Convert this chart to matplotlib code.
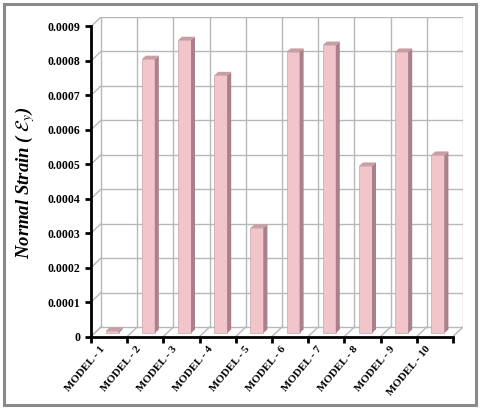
import matplotlib
matplotlib.use("Agg")
import matplotlib.pyplot as plt
from matplotlib.patches import Polygon, Rectangle
import matplotlib.transforms as mtransforms
import numpy as np

categories = ["MODEL - 1", "MODEL - 2", "MODEL - 3", "MODEL - 4", "MODEL - 5",
              "MODEL - 6", "MODEL - 7", "MODEL - 8", "MODEL - 9", "MODEL - 10"]
strain = [0.000006, 0.000795, 0.000850, 0.000748, 0.000305,
          0.000816, 0.000836, 0.000485, 0.000816, 0.000517]
yticks = [0, 0.0001, 0.0002, 0.0003, 0.0004, 0.0005, 0.0006, 0.0007, 0.0008, 0.0009]
ytick_labels = ["0", "0.0001", "0.0002", "0.0003", "0.0004", "0.0005",
                "0.0006", "0.0007", "0.0008", "0.0009"]

plt.rcParams['mathtext.fontset'] = 'stix'

W, H = 480, 409
fig = plt.figure(figsize=(W / 100, H / 100), dpi=100)
fig.patch.set_facecolor('white')

x0_px, x1_px = 91, 463
y0_px, y1_px = 336.5, 17
ax = fig.add_axes([x0_px / W, (H - y0_px) / H, (x1_px - x0_px) / W, (y0_px - y1_px) / H])
ax.set_facecolor('none')

n = len(categories)
ymax = 0.0009
dx_px, dy_px = 10.0, 9.5
sx = (x1_px - x0_px - dx_px) / n
sy = (y0_px - y1_px - dy_px) / ymax
dx = dx_px / sx
dy = dy_px / sy
ax.set_xlim(0, n + dx)
ax.set_ylim(0, ymax + dy)

grid_c = '#b8b8b8'
glw = 1.0
for v in yticks:
    ax.plot([dx, n + dx], [v + dy, v + dy], color=grid_c, lw=glw, zorder=1)
    ax.plot([0, dx], [v, v + dy], color=grid_c, lw=glw, zorder=1)
for i in range(n + 1):
    ax.plot([i + dx, i + dx], [dy, ymax + dy], color=grid_c, lw=glw, zorder=1)
    ax.plot([i, i + dx], [0, dy], color=grid_c, lw=glw, zorder=1)

front_c = '#f1c5c9'
side_c = '#a8818a'
top_c = '#c99da4'
bw = 13.0 / sx
bdx = 4.0 / sx
bdy = 3.5 / sy
off_x = 3.0 / sx
off_y = 3.5 / sy
lefts = [i + 0.5 - bw / 2 + off_x for i in range(n)]
ax.bar(lefts, strain, width=bw, bottom=off_y, align='edge', color=front_c,
       edgecolor='#c9a4a8', linewidth=0.5, zorder=3)
for xl, v in zip(lefts, strain):
    xr = xl + bw
    ytop = off_y + v
    side = Polygon([[xr, off_y], [xr + bdx, off_y + bdy], [xr + bdx, ytop + bdy], [xr, ytop]],
                   closed=True, facecolor=side_c, edgecolor='none', zorder=3)
    top = Polygon([[xl, ytop], [xr, ytop], [xr + bdx, ytop + bdy], [xl + bdx, ytop + bdy]],
                  closed=True, facecolor=top_c, edgecolor='none', zorder=3)
    ax.add_patch(side)
    ax.add_patch(top)

for s in ['top', 'right']:
    ax.spines[s].set_visible(False)
ax.spines['left'].set_bounds(0, ymax)
ax.spines['bottom'].set_bounds(0, n)
ax.spines['left'].set_linewidth(2)
ax.spines['bottom'].set_linewidth(2)
ax.spines['left'].set_zorder(5)
ax.spines['bottom'].set_zorder(5)

ax.set_yticks(yticks)
ax.set_yticklabels(ytick_labels, fontfamily='Liberation Serif', fontweight='bold', fontsize=8.5)
ax.set_xticks(range(n + 1))
ax.set_xticklabels([])
ax.tick_params(axis='both', direction='out', length=4, width=2)
ax.set_xticks([i + 0.5 for i in range(n)], minor=True)
ax.set_xticklabels(categories, minor=True, rotation=50, ha='right', va='center',
                   rotation_mode='anchor', fontfamily='Liberation Serif',
                   fontweight='bold', fontsize=8)
ax.tick_params(axis='x', which='minor', length=0, pad=8)
shift = mtransforms.ScaledTranslation(-6 / 100, 0, fig.dpi_scale_trans)
for lbl in ax.get_xticklabels(minor=True):
    lbl.set_transform(lbl.get_transform() + shift)

fig.text(25 / W, 1 - 183 / H, r'Normal Strain ( $\mathcal{E}_y$)', rotation=90,
         ha='center', va='center', fontfamily='Liberation Serif', fontweight='bold',
         fontstyle='italic', fontsize=13.5)

fig.patches.append(Rectangle((4 / W, 4 / H), 1 - 8 / W, 1 - 8 / H, transform=fig.transFigure,
                             fill=False, edgecolor='#8a8a8a', linewidth=2.2))

fig.savefig('out.png', dpi=100)
